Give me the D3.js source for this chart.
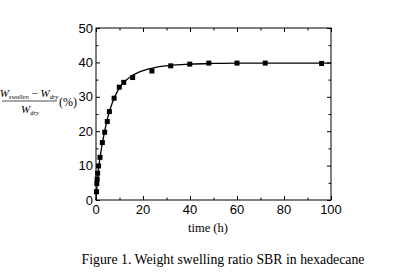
<!DOCTYPE html>
<html>
<head>
<meta charset="utf-8">
<script src="https://cdn.jsdelivr.net/npm/d3@7"></script>
<style>
  body { margin: 0; background: #fff; }
  svg { display: block; }
</style>
</head>
<body>
<svg id="chart" width="406" height="274"></svg>
<script>
const times = [0.2, 0.35, 0.5, 0.7, 1.1, 1.7, 2.7, 3.7, 4.8, 5.7, 7.7, 9.9, 11.8, 15.6, 23.8, 31.8, 39.9, 48, 60, 72, 96]
const ratios = [2.4, 4.8, 6.1, 7.8, 9.9, 12.4, 16.7, 19.7, 22.8, 25.7, 29.6, 32.8, 34.2, 35.6, 37.5, 39.0, 39.5, 39.8, 39.8, 39.8, 39.7]
const fitTimes = [0, 1, 2, 3, 4, 5, 6, 8, 10, 12, 15, 20, 25, 30, 40, 50, 60, 80, 100]
const fitValues = [0, 8.6, 13.6, 17.6, 21.0, 24.0, 26.4, 30.0, 32.6, 34.3, 36.0, 37.6, 38.5, 39.0, 39.5, 39.7, 39.8, 39.8, 39.8]
const xTicks = [0, 20, 40, 60, 80, 100]
const yTicks = [0, 10, 20, 30, 40, 50]

function drawChart() {
  const svg = d3.select('#chart')
  const mLeft = 96, mRight = 331, mTop = 28, mBottom = 200

  const x = d3.scaleLinear().domain([0, 100]).range([mLeft, mRight])
  const y = d3.scaleLinear().domain([0, 50]).range([mBottom, mTop])

  const minorX = d3.range(10, 100, 20)
  const minorY = d3.range(5, 50, 10)

  // frame
  svg.append('rect')
    .attr('x', mLeft).attr('y', mTop)
    .attr('width', mRight - mLeft).attr('height', mBottom - mTop)
    .attr('fill', 'none').attr('stroke', '#000').attr('stroke-width', 1)

  // inward ticks on all four sides
  const sides = [
    [d3.axisTop(x), `translate(0,${mBottom})`, xTicks, minorX],
    [d3.axisBottom(x), `translate(0,${mTop})`, xTicks, minorX],
    [d3.axisRight(y), `translate(${mLeft},0)`, yTicks, minorY],
    [d3.axisLeft(y), `translate(${mRight},0)`, yTicks, minorY]
  ]
  sides.forEach(([axis, tr, major, minor]) => {
    svg.append('g').attr('transform', tr)
      .call(axis.tickValues(major).tickSize(4).tickFormat(''))
      .call(g => g.select('.domain').remove())
    svg.append('g').attr('transform', tr)
      .call(axis.tickValues(minor).tickSize(2.5).tickFormat(''))
      .call(g => g.select('.domain').remove())
  })

  // tick labels
  svg.append('g').selectAll('text').data(xTicks).join('text')
    .attr('x', d => x(d)).attr('y', mBottom + 14)
    .attr('text-anchor', 'middle')
    .style('font', '13px "Liberation Sans", Arial, sans-serif')
    .text(d => d)
  svg.append('g').selectAll('text').data(yTicks).join('text')
    .attr('x', mLeft - 3).attr('y', d => y(d) + 4.5)
    .attr('text-anchor', 'end')
    .style('font', '13px "Liberation Sans", Arial, sans-serif')
    .text(d => d)

  // fitted curve
  const line = d3.line()
    .x((d, i) => x(fitTimes[i]))
    .y(d => y(d))
    .curve(d3.curveMonotoneX)
  svg.append('path')
    .datum(fitValues)
    .attr('d', line)
    .attr('fill', 'none').attr('stroke', '#000').attr('stroke-width', 1.3)

  // markers
  svg.append('g').selectAll('rect').data(ratios).join('rect')
    .attr('x', (d, i) => x(times[i]) - 2.5)
    .attr('y', d => y(d) - 2.5)
    .attr('width', 5).attr('height', 5)
    .attr('fill', '#000')

  // x axis title
  svg.append('text')
    .attr('x', 208).attr('y', 232)
    .attr('text-anchor', 'middle')
    .style('font', '12.5px "Liberation Serif", "Times New Roman", serif')
    .text('time (h)')

  // y axis label as fraction
  const ylab = svg.append('g').style('font-family', '"Liberation Serif", "Times New Roman", serif')
  const num = ylab.append('text').attr('x', 29).attr('y', 97).attr('text-anchor', 'middle').style('font-size', '11px')
  num.append('tspan').style('font-style', 'italic').text('W')
  num.append('tspan').style('font-style', 'italic').style('font-size', '6.5px').attr('dy', 2).text('swollen')
  num.append('tspan').attr('dy', -2).text(' \u2212 ')
  num.append('tspan').style('font-style', 'italic').text('W')
  num.append('tspan').style('font-style', 'italic').style('font-size', '6.5px').attr('dy', 2).text('dry')
  ylab.append('line').attr('x1', 2).attr('x2', 57).attr('y1', 101).attr('y2', 101)
    .attr('stroke', '#000').attr('stroke-width', 0.7)
  const den = ylab.append('text').attr('x', 30).attr('y', 113).attr('text-anchor', 'middle').style('font-size', '11px')
  den.append('tspan').style('font-style', 'italic').text('W')
  den.append('tspan').style('font-style', 'italic').style('font-size', '6.5px').attr('dy', 2).text('dry')
  ylab.append('text').attr('x', 59).attr('y', 106).style('font-size', '12px').text('(%)')

  // caption
  svg.append('text')
    .attr('x', 223).attr('y', 264)
    .attr('text-anchor', 'middle')
    .style('font', '13.8px "Liberation Serif", "Times New Roman", serif')
    .text('Figure 1. Weight swelling ratio SBR in hexadecane')
}

drawChart()
</script>
</body>
</html>
